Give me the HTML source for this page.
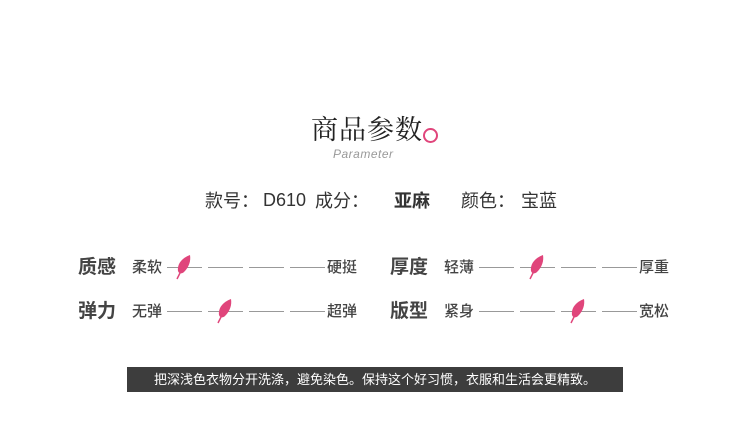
<!DOCTYPE html><html><head><meta charset="utf-8"><style>
body{margin:0;width:750px;height:437px;background:#fff;position:relative;overflow:hidden;font-family:"Liberation Sans","Noto Sans CJK SC",sans-serif;color:#333}
.a{position:absolute;white-space:nowrap}
.t{font-family:"Liberation Serif","Noto Serif CJK SC",serif;font-size:27px;color:#222;left:311px;top:108px;letter-spacing:1px}
.lab{font-size:19px;font-weight:bold;color:#444}
.sm{font-size:15px;color:#444;font-weight:500}
.ln{position:absolute;height:1px;background:#999}
.i{font-size:18px;color:#333;top:187px}
</style></head><body>
<div class="a t">商品参数</div>
<div class="a" style="left:423px;top:128px;width:11px;height:11px;border:2px solid #e0457b;border-radius:50%"></div>
<div class="a" style="left:333px;top:147px;font-size:12px;font-style:italic;color:#999;letter-spacing:.5px">Parameter</div>
<div class="a i" style="left:205px">款号：</div><div class="a i" style="left:263px;top:190px">D610</div>
<div class="a i" style="left:315px">成分：</div><div class="a i" style="left:394px;font-weight:bold">亚麻</div>
<div class="a i" style="left:461px">颜色：</div><div class="a i" style="left:521px">宝蓝</div>

<div class="a lab" style="left:78px;top:252px">质感</div>
<div class="a sm" style="left:132px;top:256px">柔软</div>
<div class="a sm" style="left:327px;top:256px">硬挺</div>
<div class="a lab" style="left:78px;top:296px">弹力</div>
<div class="a sm" style="left:132px;top:300px">无弹</div>
<div class="a sm" style="left:327px;top:300px">超弹</div>
<div class="a lab" style="left:390px;top:252px">厚度</div>
<div class="a sm" style="left:444px;top:256px">轻薄</div>
<div class="a sm" style="left:639px;top:256px">厚重</div>
<div class="a lab" style="left:390px;top:296px">版型</div>
<div class="a sm" style="left:444px;top:300px">紧身</div>
<div class="a sm" style="left:639px;top:300px">宽松</div>

<div class="ln" style="left:167px;top:267px;width:35px"></div>
<div class="ln" style="left:208px;top:267px;width:35px"></div>
<div class="ln" style="left:249px;top:267px;width:35px"></div>
<div class="ln" style="left:290px;top:267px;width:35px"></div>
<div class="ln" style="left:167px;top:311px;width:35px"></div>
<div class="ln" style="left:208px;top:311px;width:35px"></div>
<div class="ln" style="left:249px;top:311px;width:35px"></div>
<div class="ln" style="left:290px;top:311px;width:35px"></div>
<div class="ln" style="left:479px;top:267px;width:35px"></div>
<div class="ln" style="left:520px;top:267px;width:35px"></div>
<div class="ln" style="left:561px;top:267px;width:35px"></div>
<div class="ln" style="left:602px;top:267px;width:35px"></div>
<div class="ln" style="left:479px;top:311px;width:35px"></div>
<div class="ln" style="left:520px;top:311px;width:35px"></div>
<div class="ln" style="left:561px;top:311px;width:35px"></div>
<div class="ln" style="left:602px;top:311px;width:35px"></div>

<svg class="a" style="left:176px;top:254px" width="16" height="26" viewBox="0 0 16 26"><path d="M14 1 C6 4 1 10 2 17 C3 20 6 20 8 18 C13 13 15 7 14 1Z" fill="#e0457b"/><path d="M5 17 L1 25" stroke="#e0457b" stroke-width="1.5"/></svg>
<svg class="a" style="left:217px;top:298px" width="16" height="26" viewBox="0 0 16 26"><path d="M14 1 C6 4 1 10 2 17 C3 20 6 20 8 18 C13 13 15 7 14 1Z" fill="#e0457b"/><path d="M5 17 L1 25" stroke="#e0457b" stroke-width="1.5"/></svg>
<svg class="a" style="left:529px;top:254px" width="16" height="26" viewBox="0 0 16 26"><path d="M14 1 C6 4 1 10 2 17 C3 20 6 20 8 18 C13 13 15 7 14 1Z" fill="#e0457b"/><path d="M5 17 L1 25" stroke="#e0457b" stroke-width="1.5"/></svg>
<svg class="a" style="left:570px;top:298px" width="16" height="26" viewBox="0 0 16 26"><path d="M14 1 C6 4 1 10 2 17 C3 20 6 20 8 18 C13 13 15 7 14 1Z" fill="#e0457b"/><path d="M5 17 L1 25" stroke="#e0457b" stroke-width="1.5"/></svg>

<div class="a" style="left:127px;top:367px;width:496px;height:25px;background:#3d3d3d;color:#fff;font-size:13px;line-height:25px;text-align:center">把深浅色衣物分开洗涤，避免染色。保持这个好习惯，衣服和生活会更精致。</div>
</body></html>
